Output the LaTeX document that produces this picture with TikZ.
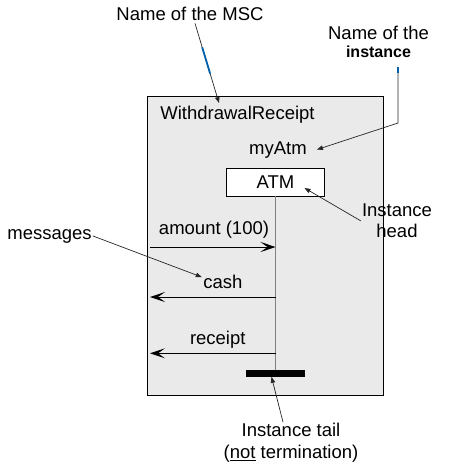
\documentclass[tikz,border=0pt]{standalone}
\usepackage{fontspec}
\setmainfont{Liberation Sans}
\usepackage{tikz}
\usetikzlibrary{positioning,arrows.meta,calc}
\definecolor{mscg}{RGB}{234,234,234}
\definecolor{mscl}{RGB}{128,128,128}
\definecolor{mscb}{RGB}{0,96,170}
\newcommand{\fmain}{\fontsize{18.5}{21.5}\selectfont}
\newcommand{\fbold}{\fontsize{16}{18}\selectfont\bfseries}
\tikzset{
	every node/.style = { font=\fmain, inner sep=1pt },
	frm/.style = { draw, line width=1.3pt, fill=mscg, minimum width=236pt, minimum height=299pt, anchor=north west },
	lbl/.style = { anchor=base },
	hbox/.style = { draw, line width=0.8pt, fill=white, minimum width=98pt, minimum height=28pt, inner sep=0pt },
	tbar/.style = { fill=black, minimum width=59pt, minimum height=6.7pt, inner sep=0pt },
	life/.style = { draw=mscl, line width=0.8pt },
	msg/.style = { line width=0.9pt, -{Stealth[length=15pt,width=10pt,inset=7pt]} },
	mlbl/.style = { above=#1, text depth=.25em },
	mlbl/.default = 4.5pt,
	ann/.style = { line width=0.7pt, draw=black!85, -{Triangle[length=6pt,width=4.5pt]} },
	hilite/.style = { draw=mscb, line width=1.8pt },
}

\begin{document}
\begin{tikzpicture}[x=1pt,y=-1pt]
\useasboundingbox (0,0) rectangle (460,469);

% diagram
\node (msc)     [frm] at (147,96) {};
\node (mscname) [lbl] at (237.5,119.5) {WithdrawalReceipt};
\node (inst)    [lbl] at (278,154) {myAtm};
\node (head)    [hbox] at (275.5,182) {ATM};
\node (tail)    [tbar] at (275.5,373.3) {};
\draw[life] (head.south) -- (tail.north);

\coordinate (m1) at (150,247);
\coordinate (m2) at (150,297);
\coordinate (m3) at (150,353.3);
\draw[msg] (m1) -- (m1-|head.south) node (lamount) [mlbl=8.5pt,pos=.51] {amount (100)};
\draw[msg] (m2-|head.south) -- (m2) node (lcash)   [mlbl,pos=.42] {cash};
\draw[msg] (m3-|head.south) -- (m3) node (lreceipt) [mlbl,pos=.46] {receipt};

% annotations
\node (nmsc)   [lbl] at (190,20) {Name of the MSC};
\node (ninst)  [lbl] at (378.5,39) {Name of the};
\node (ninstb) [below=4pt of ninst,font=\fbold] {instance};
\node (nhead)  [align=center,anchor=north] at (397,202.5) {Instance\\head};
\node (nmsgs)  [lbl] at (49.5,239) {messages};
\node (ntail)  [lbl] at (291,436.7) {Instance tail};
\node (ntail2) [below=6pt of ntail] {(\underline{not} termination)};

\coordinate (smsc) at ($(nmsc.south)+(5,2)$);
\coordinate (tmsc) at (219,103);
\draw[ann] (smsc) -- (tmsc);
\draw[hilite] ($(smsc)!.3!(tmsc)$) -- ($(smsc)!.63!(tmsc)$);

\coordinate (cinst) at (398,67);
\draw[ann] (cinst) -- ++(0,56) -- ([xshift=9pt]inst.east);
\draw[hilite] (cinst) -- ++(0,6);

\draw[ann] (nhead.west) -- ([shift={(29,6)}]head.center);
\draw[ann] (nmsgs.east) -- ([yshift=6pt]lcash.west);
\draw[ann] ([xshift=-8pt]ntail.north) -- ([xshift=-4pt]tail.south);

\end{tikzpicture}
\end{document}
